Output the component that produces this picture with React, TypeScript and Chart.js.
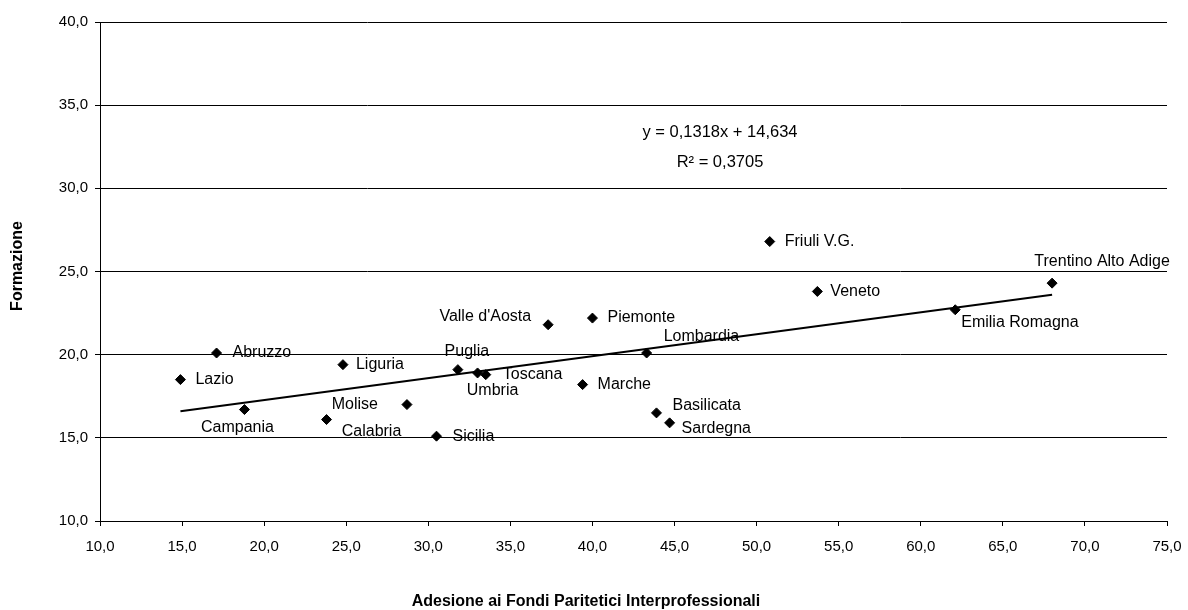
import React, { useEffect, useRef } from 'react';
import { Chart, registerables } from 'chart.js';

Chart.register(...registerables);

// ---- data ----
const regions = [
  'Lazio', 'Abruzzo', 'Campania', 'Calabria', 'Liguria', 'Molise', 'Sicilia',
  'Puglia', 'Umbria', 'Toscana', "Valle d'Aosta", 'Piemonte', 'Marche',
  'Lombardia', 'Basilicata', 'Sardegna', 'Friuli V.G.', 'Veneto',
  'Emilia Romagna', 'Trentino Alto Adige',
];
const adesione = [
  14.9, 17.1, 18.8, 23.8, 24.8, 28.7, 30.5,
  31.8, 33.0, 33.5, 37.3, 40.0, 39.4,
  43.3, 43.9, 44.7, 50.8, 53.7,
  62.1, 68.0,
];
const formazione = [
  18.5, 20.1, 16.7, 16.1, 19.4, 17.0, 15.1,
  19.1, 18.9, 18.8, 21.8, 22.2, 18.2,
  20.1, 16.5, 15.9, 26.8, 23.8,
  22.7, 24.3,
];
const trendSlope = 0.1318;
const trendIntercept = 14.634;
const equationText = 'y = 0,1318x + 14,634';
const r2Text = 'R² = 0,3705';
const xTitle = 'Adesione ai Fondi Paritetici Interprofessionali';
const yTitle = 'Formazione';
const xMin = 10, xMax = 75, yMin = 10, yMax = 40, tickStep = 5;

// ---- label placement (pixel offsets from marker) ----
const labelPlacement: [number, number, CanvasTextAlign][] = [
  [15, 0, 'left'],     // Lazio
  [16, 0, 'left'],     // Abruzzo
  [-7, 18, 'center'],  // Campania
  [45, 12, 'center'],  // Calabria
  [13, 0, 'left'],     // Liguria
  [-29, 0, 'right'],   // Molise
  [16, 0, 'left'],     // Sicilia
  [9, -18, 'center'],  // Puglia
  [15, 18, 'center'],  // Umbria
  [17, 0, 'left'],     // Toscana
  [-17, -8, 'right'],  // Valle d'Aosta
  [15, 0, 'left'],     // Piemonte
  [15, 0, 'left'],     // Marche
  [17, -16, 'left'],   // Lombardia
  [16, -7, 'left'],    // Basilicata
  [12, 6, 'left'],     // Sardegna
  [15, 0, 'left'],     // Friuli
  [13, 0, 'left'],     // Veneto
  [6, 13, 'left'],     // Emilia Romagna
  [50, -22, 'center'], // Trentino
];

const FONT = '"Liberation Sans", Arial, sans-serif';
const fmt = (v: number) => v.toFixed(1).replace('.', ',');

const textPlugin = {
  id: 'textPlugin',
  afterDatasetsDraw(chart: any) {
    const ctx = chart.ctx as CanvasRenderingContext2D;
    const xs = chart.scales.x;
    const ys = chart.scales.y;
    ctx.save();
    ctx.fillStyle = '#000';
    ctx.textBaseline = 'middle';
    ctx.font = `16px ${FONT}`;
    regions.forEach((r, i) => {
      const px = xs.getPixelForValue(adesione[i]);
      const py = ys.getPixelForValue(formazione[i]);
      const [dx, dy, al] = labelPlacement[i];
      ctx.textAlign = al;
      ctx.fillText(r, px + dx, py + dy);
    });
    // equation
    ctx.textAlign = 'center';
    ctx.font = `16.5px ${FONT}`;
    ctx.fillText(equationText, 720, 132);
    ctx.fillText(r2Text, 720, 162);
    // axis titles
    ctx.font = `bold 16px ${FONT}`;
    ctx.fillText(xTitle, 586, 602);
    ctx.save();
    ctx.translate(18, 266);
    ctx.rotate(-Math.PI / 2);
    ctx.fillText(yTitle, 0, 0);
    ctx.restore();
    ctx.restore();
  },
};

export default function App() {
  const ref = useRef<HTMLCanvasElement | null>(null);
  useEffect(() => {
    if (!ref.current) return;
    const lo = Math.min(...adesione);
    const hi = Math.max(...adesione);
    const chart = new Chart(ref.current, {
      type: 'scatter',
      data: {
        datasets: [
          {
            label: 'Regioni',
            data: adesione.map((x, i) => ({ x, y: formazione[i] })),
            pointStyle: 'rectRot',
            pointRadius: 5,
            pointBackgroundColor: '#000',
            pointBorderColor: '#000',
            pointBorderWidth: 1,
            showLine: false,
          },
          {
            label: 'Trend',
            type: 'line',
            data: [
              { x: lo, y: trendSlope * lo + trendIntercept },
              { x: hi, y: trendSlope * hi + trendIntercept },
            ],
            borderColor: '#000',
            borderWidth: 2,
            pointRadius: 0,
            fill: false,
          } as any,
        ],
      },
      options: {
        animation: false,
        responsive: false,
        devicePixelRatio: 1,
        layout: { padding: { top: 22, right: 21, left: 0, bottom: 0 }, autoPadding: false } as any,
        plugins: { legend: { display: false }, tooltip: { enabled: false } },
        scales: {
          x: {
            type: 'linear',
            min: xMin,
            max: xMax,
            ticks: {
              stepSize: tickStep,
              callback: (v: any) => fmt(Number(v)),
              font: { family: FONT, size: 15 },
              color: '#000',
              padding: 12,
              maxRotation: 0,
            },
            grid: { drawOnChartArea: false, drawTicks: true, tickLength: 5, color: '#000', lineWidth: 1 },
            border: { display: true, color: '#000', width: 1 },
            afterFit: (s: any) => {
              s.height = 89;
              s.paddingLeft = 0; s.paddingRight = 0; s.paddingTop = 0; s.paddingBottom = 0;
            },
          },
          y: {
            type: 'linear',
            min: yMin,
            max: yMax,
            ticks: {
              stepSize: tickStep,
              callback: (v: any) => fmt(Number(v)),
              font: { family: FONT, size: 15 },
              color: '#000',
              padding: 7,
            },
            grid: { drawOnChartArea: true, drawTicks: true, tickLength: 5, color: '#000', lineWidth: 1 },
            border: { display: true, color: '#000', width: 1 },
            afterFit: (s: any) => {
              s.width = 100;
              s.paddingLeft = 0; s.paddingRight = 0; s.paddingTop = 0; s.paddingBottom = 0;
            },
          },
        },
      },
      plugins: [textPlugin],
    });
    return () => chart.destroy();
  }, []);
  return (
    <div style={{ position: 'absolute', left: 0, top: 0, width: 1188, height: 610, background: '#fff' }}>
      <canvas ref={ref} width={1188} height={610} style={{ display: 'block' }} />
    </div>
  );
}
